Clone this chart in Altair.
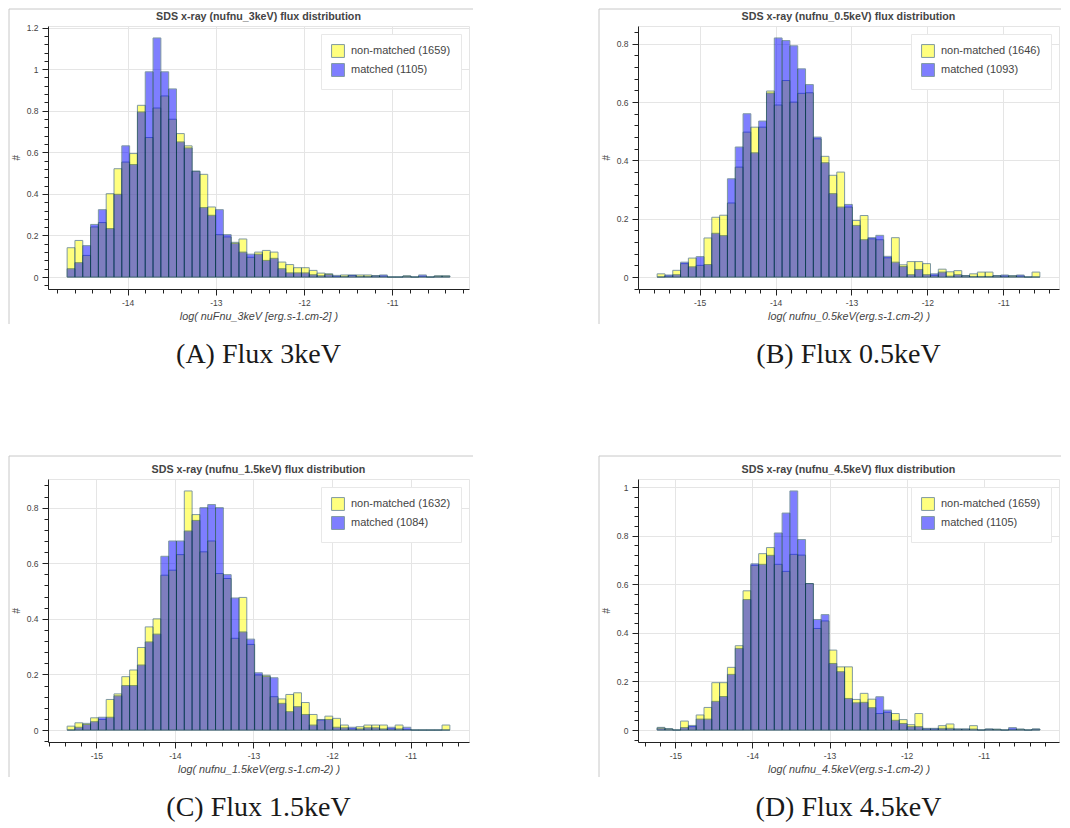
import math
import altair as alt
import pandas as pd

# ---------------- data ----------------
# (A) 3keV
a_nonmatched = [0.141, 0.176, 0.104, 0.241, 0.262, 0.401, 0.521, 0.553, 0.594, 0.826,
                0.671, 0.813, 0.871, 0.759, 0.690, 0.631, 0.509, 0.494, 0.337, 0.204,
                0.193, 0.167, 0.183, 0.095, 0.120, 0.128, 0.120, 0.072, 0.060, 0.045,
                0.045, 0.032, 0.019, 0.016, 0.003, 0.010, 0.008, 0.010, 0.010, 0.006,
                0.004, 0.0, 0.0, 0.006, 0.0, 0.003, 0.0, 0.006, 0.006]
a_matched = [0.040, 0.069, 0.151, 0.253, 0.324, 0.233, 0.398, 0.631, 0.541, 0.794,
             0.987, 1.150, 0.987, 0.905, 0.650, 0.621, 0.509, 0.334, 0.297, 0.324,
             0.204, 0.162, 0.120, 0.110, 0.110, 0.080, 0.090, 0.040, 0.020, 0.020,
             0.020, 0.011, 0.006, 0.012, 0.008, 0.003, 0.010, 0.003, 0.003, 0.006,
             0.010, 0.0, 0.0, 0.004, 0.0, 0.010, 0.0, 0.004, 0.004]
# (B) 0.5keV
b_nonmatched = [0.011, 0.003, 0.023, 0.046, 0.065, 0.040, 0.134, 0.205, 0.212, 0.254,
                0.377, 0.497, 0.514, 0.514, 0.638, 0.590, 0.674, 0.600, 0.630, 0.632,
                0.474, 0.414, 0.349, 0.360, 0.240, 0.194, 0.211, 0.131, 0.128, 0.066,
                0.135, 0.042, 0.053, 0.053, 0.046, 0.006, 0.027, 0.018, 0.022, 0.005,
                0.011, 0.017, 0.017, 0.005, 0.003, 0.005, 0.003, 0.0, 0.017]
b_matched = [0.0, 0.007, 0.008, 0.051, 0.035, 0.070, 0.043, 0.150, 0.142, 0.337,
             0.446, 0.560, 0.426, 0.535, 0.631, 0.820, 0.811, 0.793, 0.714, 0.660,
             0.480, 0.392, 0.286, 0.240, 0.249, 0.177, 0.128, 0.135, 0.143, 0.071,
             0.051, 0.036, 0.008, 0.026, 0.008, 0.011, 0.017, 0.003, 0.008, 0.004,
             0.002, 0.002, 0.002, 0.004, 0.007, 0.003, 0.007, 0.0, 0.0]
# (C) 1.5keV
c_nonmatched = [0.014, 0.026, 0.024, 0.044, 0.038, 0.110, 0.130, 0.192, 0.216, 0.297,
                0.371, 0.400, 0.557, 0.575, 0.631, 0.860, 0.775, 0.641, 0.680, 0.563,
                0.545, 0.330, 0.477, 0.308, 0.198, 0.197, 0.120, 0.112, 0.128, 0.134,
                0.099, 0.056, 0.036, 0.050, 0.042, 0.018, 0.004, 0.012, 0.018, 0.018,
                0.018, 0.004, 0.018, 0.002, 0.0, 0.0, 0.0, 0.0, 0.018]
c_matched = [0.0, 0.010, 0.020, 0.030, 0.046, 0.046, 0.123, 0.160, 0.160, 0.234,
             0.317, 0.345, 0.625, 0.680, 0.680, 0.716, 0.754, 0.800, 0.811, 0.800,
             0.559, 0.475, 0.353, 0.327, 0.206, 0.193, 0.188, 0.096, 0.066, 0.084,
             0.056, 0.018, 0.038, 0.038, 0.010, 0.008, 0.010, 0.004, 0.008, 0.008,
             0.004, 0.010, 0.004, 0.010, 0.0, 0.0, 0.0, 0.0, 0.0]
# (D) 4.5keV
d_nonmatched = [0.011, 0.006, 0.0, 0.037, 0.014, 0.062, 0.093, 0.195, 0.195, 0.258,
                0.347, 0.573, 0.678, 0.726, 0.751, 0.682, 0.653, 0.723, 0.720, 0.603,
                0.418, 0.449, 0.329, 0.260, 0.260, 0.126, 0.151, 0.127, 0.068, 0.073,
                0.068, 0.043, 0.022, 0.068, 0.004, 0.004, 0.018, 0.025, 0.004, 0.004,
                0.018, 0.0, 0.004, 0.004, 0.0, 0.003, 0.004, 0.0, 0.004]
d_matched = [0.008, 0.004, 0.0, 0.010, 0.019, 0.045, 0.045, 0.118, 0.138, 0.229,
             0.336, 0.537, 0.684, 0.682, 0.719, 0.811, 0.893, 0.984, 0.784, 0.603,
             0.455, 0.475, 0.274, 0.240, 0.130, 0.112, 0.114, 0.092, 0.137, 0.082,
             0.040, 0.027, 0.014, 0.014, 0.007, 0.007, 0.007, 0.007, 0.004, 0.004,
             0.004, 0.0, 0.004, 0.002, 0.0, 0.010, 0.003, 0.0, 0.004]

bin_start = {"A": -14.686, "B": -15.560, "C": -15.372, "D": -15.237}
bin_width = {"A": 0.08855, "B": 0.10288, "C": 0.09943, "D": 0.10137}
count_nonmatched = {"A": 1659, "B": 1646, "C": 1632, "D": 1659}
count_matched = {"A": 1105, "B": 1093, "C": 1084, "D": 1105}
titles = {
    "A": "SDS x-ray (nufnu_3keV) flux distribution",
    "B": "SDS x-ray (nufnu_0.5keV) flux distribution",
    "C": "SDS x-ray (nufnu_1.5keV) flux distribution",
    "D": "SDS x-ray (nufnu_4.5keV) flux distribution",
}
x_titles = {
    "A": "log( nuFnu_3keV [erg.s-1.cm-2] )",
    "B": "log( nufnu_0.5keV(erg.s-1.cm-2) )",
    "C": "log( nufnu_1.5keV(erg.s-1.cm-2) )",
    "D": "log( nufnu_4.5keV(erg.s-1.cm-2) )",
}
captions = {"A": "(A) Flux 3keV", "B": "(B) Flux 0.5keV",
            "C": "(C) Flux 1.5keV", "D": "(D) Flux 4.5keV"}

# ---------------- styling ----------------
W, H = 421, 263
FONT = "Liberation Sans"
EDGE = "#033649"
MAJOR_X = "abs(datum.value - round(datum.value)) < 0.001"
MAJOR_Y = "abs(datum.value * 5 - round(datum.value * 5)) < 0.001"


def make_panel(key, nonm, mat, first_row, right_col):
    lab_nm = f"non-matched ({count_nonmatched[key]})"
    lab_m = f"matched ({count_matched[key]})"
    s, w = bin_start[key], bin_width[key]
    rows = []
    for lab, vals in ((lab_nm, nonm), (lab_m, mat)):
        for i, v in enumerate(vals):
            rows.append({"left": s + i * w, "right": s + (i + 1) * w,
                         "top": v, "bottom": 0.0, "series": lab})
    df = pd.DataFrame(rows)

    lo, hi = s, s + len(nonm) * w
    xdom = [lo - 0.05 * (hi - lo), hi + 0.05 * (hi - lo)]
    ymax = max(max(nonm), max(mat))
    ydom = [-0.05 * ymax, 1.05 * ymax]
    xticks = [round(k / 5, 1) for k in range(math.ceil(xdom[0] * 5), math.floor(xdom[1] * 5) + 1)]
    yticks = [round(k * 0.04, 2) for k in range(math.ceil(ydom[0] / 0.04), math.floor(ydom[1] / 0.04) + 1)]

    xaxis = alt.Axis(
        values=xticks, title=x_titles[key], grid=True, gridColor="#e5e5e5",
        gridOpacity={"condition": {"test": MAJOR_X, "value": 1}, "value": 0},
        tickSize={"condition": {"test": MAJOR_X, "value": 6}, "value": 4},
        tickColor="#222", domainColor="#222",
        labelExpr=f"{MAJOR_X} ? toString(round(datum.value)) : ''",
        labelFont=FONT, labelFontSize=8.5, labelColor="#444", labelPadding=3,
        labelOverlap=False, labelFlush=False,
        titleFont=FONT, titleFontSize=10.8, titleFontStyle="italic",
        titleFontWeight="normal", titleColor="#444", titlePadding=4)
    yaxis = alt.Axis(
        values=yticks, title="#", grid=True, gridColor="#e5e5e5",
        gridOpacity={"condition": {"test": MAJOR_Y, "value": 1}, "value": 0},
        tickSize={"condition": {"test": MAJOR_Y, "value": 6}, "value": 4},
        tickColor="#222", domainColor="#222",
        labelExpr=f"{MAJOR_Y} ? toString(round(datum.value * 5) / 5) : ''",
        labelFont=FONT, labelFontSize=8.5, labelColor="#444", labelPadding=4,
        labelOverlap=False, labelFlush=False,
        titleFont=FONT, titleFontSize=10, titleFontStyle="italic",
        titleFontWeight="normal", titleColor="#444", titlePadding=5,
        minExtent=22, maxExtent=22)
    legend = alt.Legend(
        orient="top-right", offset=8, title=None, fillColor="white",
        strokeColor="#e8e8e8", padding=10, symbolType="square", symbolSize=165,
        symbolStrokeWidth=1, symbolStrokeColor=EDGE, symbolOpacity=0.5,
        labelFont=FONT, labelFontSize=11, labelColor="#444", labelOffset=6,
        rowPadding=1, cornerRadius=0, labelLimit=300)

    enc = dict(
        x=alt.X("left:Q", scale=alt.Scale(domain=xdom, nice=False, zero=False), axis=xaxis),
        x2="right:Q",
        y=alt.Y("top:Q", scale=alt.Scale(domain=ydom, nice=False, zero=False), axis=yaxis),
        y2="bottom:Q",
        color=alt.Color("series:N", title=None,
                        scale=alt.Scale(domain=[lab_nm, lab_m], range=["#ffff00", "#0000ff"]),
                        legend=legend),
    )
    base = alt.Chart(df)
    bars_nm = base.transform_filter(alt.datum.series == lab_nm).mark_rect(
        opacity=0.5, stroke=EDGE, strokeWidth=1).encode(**enc)
    bars_m = base.transform_filter(alt.datum.series == lab_m).mark_rect(
        opacity=0.5, stroke=EDGE, strokeWidth=1).encode(**enc)

    one = pd.DataFrame({"k": [0]})
    top_y = -17 if first_row else -23
    right_x = W + (2 if right_col else 4)
    border_l = alt.Chart(one).mark_rule(color="#c8c8c8", strokeWidth=1).encode(
        x=alt.value(-39), y=alt.value(top_y), y2=alt.value(298))
    border_t = alt.Chart(one).mark_rule(color="#c8c8c8", strokeWidth=1).encode(
        x=alt.value(-39), x2=alt.value(right_x), y=alt.value(top_y))
    title = alt.Chart(one).mark_text(
        text=titles[key], font=FONT, fontSize=10.7, fontWeight="bold", color="#444",
        align="center", baseline="alphabetic").encode(x=alt.value(W / 2), y=alt.value(-6))
    caption = alt.Chart(one).mark_text(
        text=captions[key], font="Liberation Serif", fontSize=28, color="#1a1a1a",
        align="center", baseline="alphabetic").encode(x=alt.value(W / 2), y=alt.value(337))

    return alt.layer(border_l, border_t, bars_nm, bars_m, title, caption).properties(
        width=W, height=H)


pA = make_panel("A", a_nonmatched, a_matched, True, False)
pB = make_panel("B", b_nonmatched, b_matched, True, True)
pC = make_panel("C", c_nonmatched, c_matched, False, False)
pD = make_panel("D", d_nonmatched, d_matched, False, True)

chart = alt.concat(
    pA, pB, pC, pD, columns=2, spacing={"row": 190, "column": 169}, bounds="flush"
).resolve_scale(
    color="independent", x="independent", y="independent"
).resolve_legend(color="independent").properties(padding=0).configure_view(
    stroke="#e5e5e5", strokeWidth=1)

chart.save("out.html", embed_options={"renderer": "svg", "actions": False})
